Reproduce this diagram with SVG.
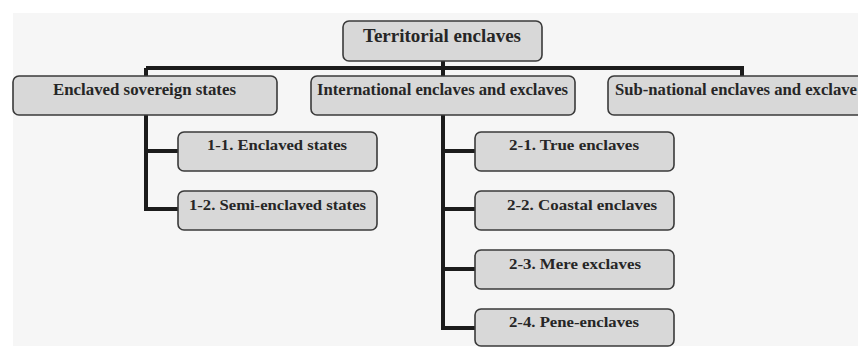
<svg xmlns="http://www.w3.org/2000/svg" width="858" height="347" viewBox="0 0 858 347">
<style>
.box{fill:#d8d8d8;stroke:#3a3a3a;stroke-width:1.6}
.t{font-family:"Liberation Serif","Times New Roman",serif;font-weight:bold;fill:#262626}
.t1{font-size:18px}
.t2{font-size:16px}
.t3{font-size:15px}
.con{fill:none;stroke:#1c1c1c;stroke-width:4;stroke-linejoin:miter}
</style>
<rect x="0" y="0" width="858" height="347" fill="#ffffff"/>
<rect x="13" y="13" width="845" height="333" fill="#f6f6f6"/>
<g id="connectors">
<path class="con" d="M146,68 H742 V77"/>
<path class="con" d="M443,60 V77"/>
<path class="con" d="M146,68 V209 H179 M146,151 H179"/>
<path class="con" d="M443,114 V328 H476 M443,151 H476 M443,209 H476 M443,269 H476"/>
</g>
<g id="root"><rect class="box" x="343" y="21" width="199" height="40" rx="6"/><text class="t t1" x="363" y="42" textLength="158" lengthAdjust="spacingAndGlyphs">Territorial enclaves</text></g>
<g id="n1"><rect class="box" x="13" y="76" width="264" height="39" rx="6"/><text class="t t2" x="53" y="95" textLength="183" lengthAdjust="spacingAndGlyphs">Enclaved sovereign states</text></g>
<g id="n2"><rect class="box" x="311" y="76" width="264" height="39" rx="6"/><text class="t t2" x="317" y="95" textLength="251" lengthAdjust="spacingAndGlyphs">International enclaves and exclaves</text></g>
<g id="n3"><rect class="box" x="608" y="76" width="268" height="39" rx="6"/><text class="t t2" x="615" y="95" textLength="242" lengthAdjust="spacingAndGlyphs">Sub-national enclaves and exclave</text></g>
<g id="n11"><rect class="box" x="178" y="132" width="199" height="39" rx="6"/><text class="t t3" x="207" y="150" textLength="140" lengthAdjust="spacingAndGlyphs">1-1. Enclaved states</text></g>
<g id="n12"><rect class="box" x="178" y="191" width="199" height="39" rx="6"/><text class="t t3" x="189" y="210" textLength="177" lengthAdjust="spacingAndGlyphs">1-2. Semi-enclaved states</text></g>
<g id="n21"><rect class="box" x="475" y="132" width="199" height="39" rx="6"/><text class="t t3" x="509" y="150" textLength="130" lengthAdjust="spacingAndGlyphs">2-1. True enclaves</text></g>
<g id="n22"><rect class="box" x="475" y="191" width="199" height="39" rx="6"/><text class="t t3" x="507" y="210" textLength="150" lengthAdjust="spacingAndGlyphs">2-2. Coastal enclaves</text></g>
<g id="n23"><rect class="box" x="475" y="250" width="199" height="39" rx="6"/><text class="t t3" x="509" y="269" textLength="132" lengthAdjust="spacingAndGlyphs">2-3. Mere exclaves</text></g>
<g id="n24"><rect class="box" x="475" y="309" width="199" height="37" rx="6"/><text class="t t3" x="509" y="327" textLength="130" lengthAdjust="spacingAndGlyphs">2-4. Pene-enclaves</text></g>
</svg>
